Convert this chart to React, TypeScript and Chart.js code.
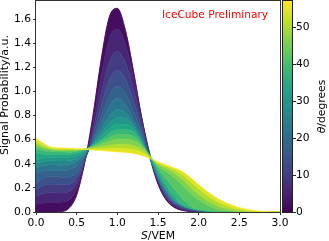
import React, { useEffect, useRef } from "react";
import { Chart, registerables } from "chart.js";

Chart.register(...registerables);

// ---------------- data ----------------
const X_VALUES = [0, 0.1, 0.2, 0.3, 0.4, 0.5, 0.6, 0.7, 0.8, 0.9, 1.0, 1.1, 1.2, 1.3, 1.4, 1.5, 1.6, 1.7, 1.8, 1.9, 2.0, 2.2, 2.4, 2.6, 2.8, 3.0];

const THETA_VALUES = [0, 4, 8, 12, 16, 20, 24, 28, 32, 36, 40, 44, 48, 52, 57];

const curveTheta00 = [0, 0, 0, 0.003, 0.027, 0.14, 0.413, 0.801, 1.261, 1.616, 1.689, 1.507, 1.166, 0.783, 0.455, 0.23, 0.1, 0.038, 0.013, 0.004, 0.001, 0, 0, 0, 0, 0];
const curveTheta04 = [0.064, 0.077, 0.08, 0.081, 0.097, 0.191, 0.417, 0.736, 1.122, 1.431, 1.517, 1.387, 1.113, 0.78, 0.48, 0.245, 0.115, 0.05, 0.021, 0.007, 0.002, 0, 0, 0, 0, 0];
const curveTheta08 = [0.128, 0.154, 0.16, 0.157, 0.168, 0.242, 0.422, 0.674, 0.984, 1.243, 1.331, 1.237, 1.018, 0.745, 0.475, 0.255, 0.128, 0.06, 0.029, 0.011, 0.004, 0, 0, 0, 0, 0];
const curveTheta12 = [0.184, 0.221, 0.23, 0.225, 0.229, 0.288, 0.429, 0.627, 0.875, 1.089, 1.174, 1.102, 0.922, 0.7, 0.46, 0.262, 0.14, 0.07, 0.037, 0.016, 0.006, 0.001, 0, 0, 0, 0];
const curveTheta16 = [0.236, 0.283, 0.295, 0.288, 0.286, 0.331, 0.44, 0.595, 0.789, 0.963, 1.04, 0.984, 0.828, 0.66, 0.45, 0.27, 0.15, 0.078, 0.044, 0.02, 0.008, 0.001, 0, 0, 0, 0];
const curveTheta20 = [0.328, 0.342, 0.345, 0.344, 0.351, 0.385, 0.469, 0.587, 0.736, 0.873, 0.941, 0.89, 0.76, 0.63, 0.445, 0.28, 0.16, 0.085, 0.048, 0.024, 0.011, 0.002, 0, 0, 0, 0];
const curveTheta24 = [0.371, 0.386, 0.39, 0.388, 0.393, 0.42, 0.483, 0.572, 0.686, 0.793, 0.851, 0.825, 0.73, 0.61, 0.445, 0.29, 0.17, 0.09, 0.05, 0.027, 0.013, 0.003, 0, 0, 0, 0];
const curveTheta28 = [0.404, 0.421, 0.425, 0.422, 0.425, 0.446, 0.494, 0.561, 0.649, 0.734, 0.782, 0.777, 0.705, 0.595, 0.45, 0.305, 0.18, 0.095, 0.05, 0.029, 0.015, 0.003, 0, 0, 0, 0];
const curveTheta32 = [0.432, 0.45, 0.455, 0.452, 0.454, 0.469, 0.505, 0.556, 0.624, 0.69, 0.729, 0.728, 0.685, 0.585, 0.455, 0.32, 0.195, 0.105, 0.05, 0.03, 0.017, 0.004, 0.001, 0, 0, 0];
const curveTheta36 = [0.49, 0.48, 0.48, 0.477, 0.478, 0.489, 0.515, 0.551, 0.6, 0.65, 0.682, 0.683, 0.662, 0.575, 0.46, 0.34, 0.22, 0.13, 0.06, 0.03, 0.017, 0.005, 0.001, 0, 0, 0];
const curveTheta40 = [0.525, 0.505, 0.5, 0.497, 0.496, 0.504, 0.521, 0.547, 0.582, 0.617, 0.642, 0.643, 0.626, 0.56, 0.47, 0.36, 0.275, 0.19, 0.11, 0.05, 0.02, 0.005, 0.001, 0, 0, 0];
const curveTheta44 = [0.548, 0.522, 0.512, 0.508, 0.506, 0.511, 0.523, 0.539, 0.562, 0.586, 0.603, 0.604, 0.59, 0.545, 0.465, 0.38, 0.335, 0.285, 0.22, 0.155, 0.1, 0.03, 0.005, 0, 0, 0];
const curveTheta48 = [0.567, 0.536, 0.52, 0.516, 0.514, 0.516, 0.52, 0.529, 0.541, 0.553, 0.562, 0.561, 0.55, 0.523, 0.46, 0.395, 0.36, 0.325, 0.27, 0.205, 0.145, 0.06, 0.018, 0.003, 0, 0];
const curveTheta52 = [0.585, 0.548, 0.527, 0.523, 0.52, 0.52, 0.52, 0.522, 0.524, 0.527, 0.53, 0.527, 0.518, 0.497, 0.453, 0.405, 0.378, 0.35, 0.31, 0.25, 0.19, 0.095, 0.038, 0.01, 0.001, 0];
const curveTheta57 = [0.61, 0.565, 0.535, 0.531, 0.528, 0.525, 0.52, 0.515, 0.51, 0.505, 0.5, 0.495, 0.486, 0.47, 0.445, 0.415, 0.39, 0.365, 0.335, 0.285, 0.225, 0.125, 0.058, 0.02, 0.004, 0];

const CURVES = [
  curveTheta00, curveTheta04, curveTheta08, curveTheta12, curveTheta16,
  curveTheta20, curveTheta24, curveTheta28, curveTheta32, curveTheta36,
  curveTheta40, curveTheta44, curveTheta48, curveTheta52, curveTheta57,
];

const X_MIN = 0;
const X_MAX = 3;
const X_STEP = 0.5;
const Y_MIN = 0;
const Y_MAX = 1.75;
const Y_STEP = 0.2;
const THETA_MIN = 0;
const THETA_MAX = 57;
const THETA_STEP = 10;

const X_TITLE_ITALIC = "S";
const X_TITLE_REST = "/VEM";
const Y_TITLE = "Signal Probability/a.u.";
const CB_TITLE_ITALIC = "θ";
const CB_TITLE_REST = "/degrees";
const ANNOTATION = "IceCube Preliminary";

// ---------------- style ----------------
const FONT = '"DejaVu Sans"';
const VIRIDIS = [
  "#440154", "#482475", "#414487", "#355f8d", "#2a788e",
  "#21918c", "#22a884", "#44bf70", "#7ad151", "#bddf26", "#fde725",
];

function hexToRgb(h: string) {
  return [parseInt(h.slice(1, 3), 16), parseInt(h.slice(3, 5), 16), parseInt(h.slice(5, 7), 16)];
}
function viridis(t: number) {
  const tt = Math.min(1, Math.max(0, t)) * (VIRIDIS.length - 1);
  const i = Math.min(VIRIDIS.length - 2, Math.floor(tt));
  const f = tt - i;
  const a = hexToRgb(VIRIDIS[i]);
  const b = hexToRgb(VIRIDIS[i + 1]);
  const c = a.map((v, k) => Math.round(v + (b[k] - v) * f));
  return `rgb(${c[0]},${c[1]},${c[2]})`;
}

const decorPlugin = {
  id: "decor",
  afterDraw(chart: any) {
    const ctx = chart.ctx as CanvasRenderingContext2D;
    const a = chart.chartArea;
    const cb = chart.scales.cb;
    ctx.save();
    // frame
    ctx.strokeStyle = "#333";
    ctx.lineWidth = 1;
    ctx.strokeRect(a.left - 0.5, a.top - 0.5, a.right - a.left + 1, a.bottom - a.top + 1);

    // colorbar
    const bx0 = a.right + 2;
    const bx1 = a.right + 13;
    const top = cb.getPixelForValue(THETA_MAX);
    const bottom = cb.getPixelForValue(THETA_MIN);
    const g = ctx.createLinearGradient(0, bottom, 0, top);
    VIRIDIS.forEach((c, i) => g.addColorStop(i / (VIRIDIS.length - 1), c));
    ctx.fillStyle = g;
    ctx.fillRect(bx0, top, bx1 - bx0, bottom - top);
    ctx.strokeStyle = "#222";
    ctx.strokeRect(bx0 + 0.5, top - 0.5, bx1 - bx0 - 1, bottom - top + 1);
    ctx.beginPath();
    cb.ticks.forEach((t: any) => {
      const y = Math.round(cb.getPixelForValue(t.value)) + 0.5;
      ctx.moveTo(bx1, y);
      ctx.lineTo(bx1 + 3, y);
    });
    ctx.stroke();

    ctx.fillStyle = "#000";
    // x title
    const fsx = 10.8;
    ctx.textAlign = "left";
    ctx.textBaseline = "alphabetic";
    ctx.font = `italic ${fsx}px ${FONT}`;
    const wS = ctx.measureText(X_TITLE_ITALIC).width;
    ctx.font = `${fsx}px ${FONT}`;
    const wR = ctx.measureText(X_TITLE_REST).width;
    const x = (a.left + a.right) / 2 - (wS + wR) / 2;
    ctx.font = `italic ${fsx}px ${FONT}`;
    ctx.fillText(X_TITLE_ITALIC, x, 239);
    ctx.font = `${fsx}px ${FONT}`;
    ctx.fillText(X_TITLE_REST, x + wS, 239);

    // y title
    ctx.save();
    ctx.translate(5, 95);
    ctx.rotate(-Math.PI / 2);
    ctx.textAlign = "center";
    ctx.textBaseline = "middle";
    ctx.font = `11px ${FONT}`;
    ctx.fillText(Y_TITLE, 0, 0);
    ctx.restore();

    // colorbar title
    ctx.save();
    ctx.translate(322.5, (top + bottom) / 2);
    ctx.rotate(-Math.PI / 2);
    ctx.textBaseline = "middle";
    ctx.textAlign = "left";
    ctx.font = `italic ${fsx}px ${FONT}`;
    const wT = ctx.measureText(CB_TITLE_ITALIC).width;
    ctx.font = `${fsx}px ${FONT}`;
    const wD = ctx.measureText(CB_TITLE_REST).width;
    const sx = -(wT + wD) / 2;
    ctx.font = `italic ${fsx}px ${FONT}`;
    ctx.fillText(CB_TITLE_ITALIC, sx, 0);
    ctx.font = `${fsx}px ${FONT}`;
    ctx.fillText(CB_TITLE_REST, sx + wT, 0);
    ctx.restore();

    // annotation
    ctx.fillStyle = "#ff0000";
    ctx.font = `10.6px ${FONT}`;
    ctx.textAlign = "left";
    ctx.textBaseline = "alphabetic";
    ctx.fillText(ANNOTATION, a.left + 126, 17.7);
    ctx.restore();
  },
};

export default function App() {
  const canvasRef = useRef<HTMLCanvasElement | null>(null);

  useEffect(() => {
    if (!canvasRef.current) return;
    Chart.defaults.font.family = FONT;
    Chart.defaults.color = "#000";

    const order = THETA_VALUES.map((_, i) => i).reverse();
    const datasets = order.map((idx) => {
      const th = THETA_VALUES[idx];
      const prev = idx > 0 ? THETA_VALUES[idx - 1] : th;
      return {
        label: `θ=${th}`,
        data: X_VALUES.map((x, k) => ({ x, y: CURVES[idx][k] })),
        borderColor: viridis(th / THETA_MAX),
        backgroundColor: viridis((th + prev) / 2 / THETA_MAX),
        borderWidth: 0.9,
        pointRadius: 0,
        cubicInterpolationMode: "monotone" as const,
        fill: idx === 0 ? false : "+1",
      };
    });

    const tickFont = { size: 10.7, family: FONT };
    const chart = new Chart(canvasRef.current, {
      type: "line",
      data: { datasets: datasets as any },
      options: {
        animation: false,
        responsive: false,
        events: [],
        layout: { padding: { top: 1, left: 0, right: 0, bottom: 0 } },
        plugins: { legend: { display: false }, tooltip: { enabled: false } },
        scales: {
          x: {
            type: "linear",
            min: X_MIN,
            max: X_MAX,
            afterFit: (s: any) => { s.height = 29; s.paddingLeft = 0; s.paddingRight = 0; },
            ticks: {
              stepSize: X_STEP,
              callback: (v: any) => Number(v).toFixed(1),
              font: tickFont,
              color: "#000",
              padding: 2,
              maxRotation: 0,
              autoSkip: false,
            },
            grid: { drawOnChartArea: false, drawTicks: true, tickLength: 3, tickColor: "#333" },
            border: { display: false },
          },
          y: {
            type: "linear",
            min: Y_MIN,
            max: Y_MAX,
            afterFit: (s: any) => { s.width = 36; s.paddingTop = 0; s.paddingBottom = 0; },
            ticks: {
              stepSize: Y_STEP,
              includeBounds: false,
              callback: (v: any) => Number(v).toFixed(1),
              font: tickFont,
              color: "#000",
              padding: 2,
            },
            grid: { drawOnChartArea: false, drawTicks: true, tickLength: 3, tickColor: "#333" },
            border: { display: false },
          },
          cb: {
            type: "linear",
            axis: "y",
            position: "right",
            min: THETA_MIN,
            max: THETA_MAX,
            afterFit: (s: any) => { s.width = 49; s.paddingTop = 0; s.paddingBottom = 0; },
            ticks: {
              stepSize: THETA_STEP,
              includeBounds: false,
              font: tickFont,
              color: "#000",
              padding: 16,
            },
            grid: { drawOnChartArea: false, drawTicks: false },
            border: { display: false },
          },
        } as any,
      },
      plugins: [decorPlugin],
    });
    return () => chart.destroy();
  }, []);

  return (
    <div style={{ position: "fixed", left: 0, top: 0, width: 329, height: 241, background: "#fff" }}>
      <canvas ref={canvasRef} width={329} height={241} style={{ display: "block" }} />
    </div>
  );
}
